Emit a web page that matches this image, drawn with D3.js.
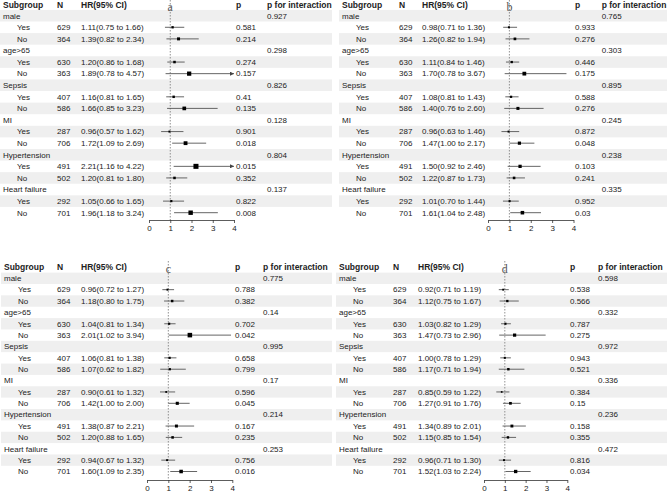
<!DOCTYPE html>
<html>
<head>
<meta charset="utf-8">
<script src="https://cdn.jsdelivr.net/npm/d3@7"></script>
<style>
	body { margin: 0; background: #fff; }
	text { font-family: "Liberation Sans", Arial, sans-serif; fill: #222; }
	.head { font-weight: bold; }
	.panel-label { font-family: "Liberation Serif", "Times New Roman", serif; fill: #555; }
	.axis path, .axis line { stroke: #333; }
	.axis text { font-size: 8px; fill: #222; }
</style>
</head>
<body>
<div id="chart"></div>
<script>
//Data
var groups = ["male", "age>65", "Sepsis", "MI", "Hypertension", "Heart failure"];
var levels = ["Yes", "No"];
var nValues = [629, 364, 630, 363, 407, 586, 287, 706, 491, 502, 292, 701];
var ticks = [0, 1, 2, 3, 4];

var hrA = [1.11, 1.39, 1.20, 1.89, 1.16, 1.66, 0.96, 1.72, 2.21, 1.20, 1.05, 1.96];
var loA = [0.75, 0.82, 0.86, 0.78, 0.81, 0.85, 0.57, 1.09, 1.16, 0.81, 0.66, 1.18];
var hiA = [1.66, 2.34, 1.68, 4.57, 1.65, 3.23, 1.62, 2.69, 4.22, 1.80, 1.65, 3.24];
var pA = ["0.581", "0.214", "0.274", "0.157", "0.41", "0.135", "0.901", "0.018", "0.015", "0.352", "0.822", "0.008"];
var pIntA = ["0.927", "0.298", "0.826", "0.128", "0.804", "0.137"];

var hrB = [0.98, 1.26, 1.11, 1.70, 1.08, 1.40, 0.96, 1.47, 1.50, 1.22, 1.01, 1.61];
var loB = [0.71, 0.82, 0.84, 0.78, 0.81, 0.76, 0.63, 1.00, 0.92, 0.87, 0.70, 1.04];
var hiB = [1.36, 1.94, 1.46, 3.67, 1.43, 2.60, 1.46, 2.17, 2.46, 1.73, 1.44, 2.48];
var pB = ["0.933", "0.276", "0.446", "0.175", "0.588", "0.276", "0.872", "0.048", "0.103", "0.241", "0.952", "0.03"];
var pIntB = ["0.765", "0.303", "0.895", "0.245", "0.238", "0.335"];

var hrC = [0.96, 1.18, 1.04, 2.01, 1.06, 1.07, 0.90, 1.42, 1.38, 1.20, 0.94, 1.60];
var loC = [0.72, 0.80, 0.81, 1.02, 0.81, 0.62, 0.61, 1.00, 0.87, 0.88, 0.67, 1.09];
var hiC = [1.27, 1.75, 1.34, 3.94, 1.38, 1.82, 1.32, 2.00, 2.21, 1.65, 1.32, 2.35];
var pC = ["0.788", "0.382", "0.702", "0.042", "0.658", "0.799", "0.596", "0.045", "0.167", "0.235", "0.756", "0.016"];
var pIntC = ["0.775", "0.14", "0.995", "0.17", "0.214", "0.253"];

var hrD = [0.92, 1.12, 1.03, 1.47, 1.00, 1.17, 0.85, 1.27, 1.34, 1.15, 0.96, 1.52];
var loD = [0.71, 0.75, 0.82, 0.73, 0.78, 0.71, 0.59, 0.91, 0.89, 0.85, 0.71, 1.03];
var hiD = [1.19, 1.67, 1.29, 2.96, 1.29, 1.94, 1.22, 1.76, 2.01, 1.54, 1.30, 2.24];
var pD = ["0.538", "0.566", "0.787", "0.275", "0.943", "0.521", "0.384", "0.15", "0.158", "0.355", "0.816", "0.034"];
var pIntD = ["0.598", "0.332", "0.972", "0.336", "0.236", "0.472"];

//Panel layouts (positions only)
var panels = [
	{ label: "a", hr: hrA, lo: loA, hi: hiA, p: pA, pInt: pIntA,
	  x0: 0, y0: 0, sub: 3, n: 57, hrX: 81, ax: [149, 234], pX: 236, pIntX: 267, rows: [15.7, 212.7], head: 5.3, axisY: 220 },
	{ label: "b", hr: hrB, lo: loB, hi: hiB, p: pB, pInt: pIntB,
	  x0: 335, y0: 0, sub: 7, n: 64, hrX: 87, ax: [153, 238.5], pX: 240, pIntX: 266.7, rows: [15.7, 212.7], head: 5.3, axisY: 220 },
	{ label: "c", hr: hrC, lo: loC, hi: hiC, p: pC, pInt: pIntC,
	  x0: 0, y0: 0, sub: 4, n: 57, hrX: 81, ax: [147, 232.3], pX: 235, pIntX: 263, rows: [278.3, 471.5], head: 267, axisY: 480 },
	{ label: "d", hr: hrD, lo: loD, hi: hiD, p: pD, pInt: pIntD,
	  x0: 335, y0: 0, sub: 4, n: 58, hrX: 83, ax: [149, 232.3], pX: 235, pIntX: 263, rows: [278.3, 471.5], head: 267, axisY: 480 }
];

var width = 670;
var height = 493;

var svg = d3.select("#chart")
	.append("svg")
	.attr("width", width)
	.attr("height", height);

svg.append("defs").append("marker")
	.attr("id", "arrow")
	.attr("viewBox", "0 0 10 10")
	.attr("refX", 10)
	.attr("refY", 5)
	.attr("markerWidth", 4)
	.attr("markerHeight", 4)
	.attr("markerUnits", "userSpaceOnUse")
	.attr("orient", "auto")
	.append("path")
	.attr("d", "M0,0L10,5L0,10z")
	.attr("fill", "#444");

//box size follows the estimate
var boxSize = d3.scaleLinear().domain([0.9, 2.2]).range([1.8, 5]);

var fmt = d3.format(".2f");

panels.forEach(function(pn) {
	//build the table rows from the arrays
	var rows = [];
	groups.forEach(function(g, gi) {
		rows.push({ type: "group", label: g, pInt: pn.pInt[gi] });
		levels.forEach(function(lv, li) {
			var k = gi * 2 + li;
			rows.push({ type: "level", label: lv, n: nValues[k], hr: pn.hr[k], lo: pn.lo[k], hi: pn.hi[k], p: pn.p[k] });
		});
	});

	var g = svg.append("g")
		.attr("transform", "translate(" + pn.x0 + "," + pn.y0 + ")");

	var x = d3.scaleLinear().domain([0, 4]).range(pn.ax);
	var y = d3.scalePoint()
		.domain(d3.range(rows.length))
		.range(pn.rows);
	var step = y.step();

	//shaded bands
	g.selectAll(".band")
		.data(rows)
		.enter()
		.filter(function(d, i) { return i % 2 === 0; })
		.append("rect")
		.attr("class", "band")
		.attr("x", pn.sub - 3)
		.attr("width", 332 - (pn.sub - 3))
		.attr("y", function(d) { return y(rows.indexOf(d)) - step / 2; })
		.attr("height", step)
		.attr("fill", "#efefef");

	//header
	var headers = [
		{ t: "Subgroup", x: pn.sub },
		{ t: "N", x: pn.n },
		{ t: "HR(95% CI)", x: pn.hrX },
		{ t: "p", x: pn.pX },
		{ t: "p for interaction", x: pn.pIntX }
	];
	g.selectAll(".head")
		.data(headers)
		.enter()
		.append("text")
		.attr("class", "head")
		.attr("x", function(d) { return d.x; })
		.attr("y", pn.head)
		.attr("dy", "0.35em")
		.attr("font-size", "8.5px")
		.text(function(d) { return d.t; });

	//reference line at HR = 1
	g.append("line")
		.attr("x1", x(1))
		.attr("x2", x(1))
		.attr("y1", Math.max(pn.head - 6, 0))
		.attr("y2", pn.axisY)
		.attr("stroke", "#777")
		.attr("stroke-width", 0.8)
		.attr("stroke-dasharray", "1.5,1.5");

	g.append("text")
		.attr("class", "panel-label")
		.attr("x", x(1))
		.attr("y", pn.head + 5.5)
		.attr("text-anchor", "middle")
		.attr("font-size", "12px")
		.text(pn.label);

	var row = g.selectAll(".row")
		.data(rows)
		.enter()
		.append("g")
		.attr("class", "row")
		.attr("transform", function(d, i) { return "translate(0," + y(i) + ")"; });

	row.append("text")
		.attr("x", function(d) { return d.type === "group" ? pn.sub : pn.sub + 14; })
		.attr("dy", "0.35em")
		.attr("font-size", "8px")
		.text(function(d) { return d.label; });

	var lvl = row.filter(function(d) { return d.type === "level"; });

	lvl.append("text")
		.attr("x", pn.n)
		.attr("dy", "0.35em")
		.attr("font-size", "8px")
		.text(function(d) { return d.n; });

	lvl.append("text")
		.attr("x", pn.hrX)
		.attr("dy", "0.35em")
		.attr("font-size", "8px")
		.text(function(d) { return fmt(d.hr) + "(" + fmt(d.lo) + " to " + fmt(d.hi) + ")"; });

	lvl.append("text")
		.attr("x", pn.pX)
		.attr("dy", "0.35em")
		.attr("font-size", "8px")
		.text(function(d) { return d.p; });

	row.filter(function(d) { return d.type === "group"; })
		.append("text")
		.attr("x", pn.pIntX)
		.attr("dy", "0.35em")
		.attr("font-size", "8px")
		.text(function(d) { return d.pInt; });

	//CI lines
	lvl.append("line")
		.attr("x1", function(d) { return x(Math.max(d.lo, 0)); })
		.attr("x2", function(d) { return x(Math.min(d.hi, 4)); })
		.attr("stroke", "#555")
		.attr("stroke-width", 0.9)
		.attr("marker-end", function(d) { return d.hi > 4 ? "url(#arrow)" : null; });

	//boxes
	lvl.append("rect")
		.attr("x", function(d) { return x(d.hr) - boxSize(d.hr) / 2; })
		.attr("y", function(d) { return -boxSize(d.hr) / 2; })
		.attr("width", function(d) { return boxSize(d.hr); })
		.attr("height", function(d) { return boxSize(d.hr); })
		.attr("fill", "#000");

	//x axis
	g.append("g")
		.attr("class", "axis")
		.attr("transform", "translate(0," + pn.axisY + ")")
		.call(d3.axisBottom(x).tickValues(ticks).tickSize(3).tickSizeOuter(0).tickPadding(2).tickFormat(d3.format("d")))
		.call(function(a) { a.select(".domain").attr("stroke-width", 0.8); a.selectAll(".tick line").attr("stroke-width", 0.8); })
		.selectAll("text")
		.attr("font-family", "Liberation Sans, Arial, sans-serif");
});
</script>
</body>
</html>
